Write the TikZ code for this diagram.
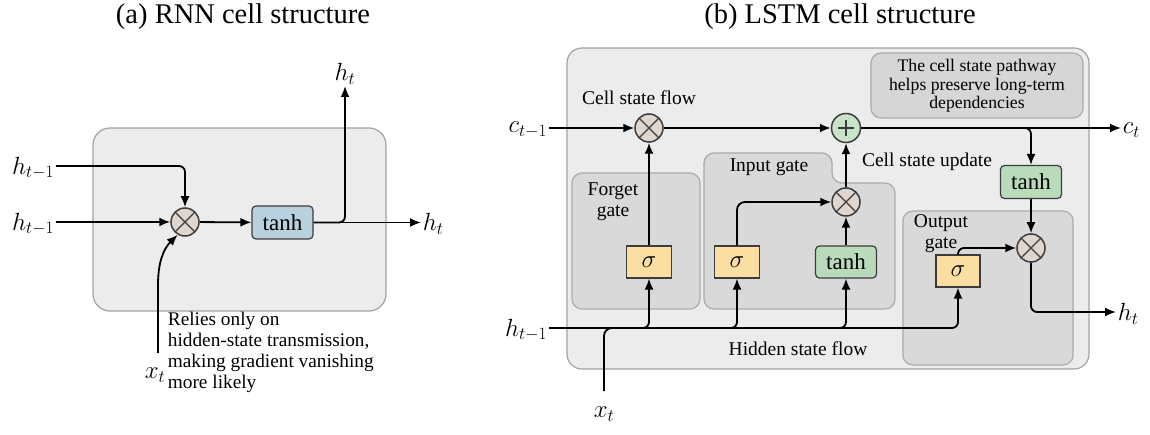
\documentclass[tikz,border=0pt]{standalone}
\usepackage{fontspec}
\setmainfont{Liberation Serif}
\usepackage{tikz}
\usetikzlibrary{positioning,arrows.meta}
\usepackage{xcolor}
\definecolor{cellfill}{HTML}{ECECEC}
\definecolor{cellline}{HTML}{A2A2A2}
\definecolor{gatefill}{HTML}{D9D9D9}
\definecolor{gateline}{HTML}{ABABAB}
\definecolor{notefill}{HTML}{D6D6D6}
\definecolor{multfill}{HTML}{E0D6D0}
\definecolor{addfill}{HTML}{C9E3C9}
\definecolor{sigfill}{HTML}{FBDFA2}
\definecolor{tanhgreen}{HTML}{B9DABB}
\definecolor{tanhblue}{HTML}{B9D0DE}
\definecolor{boxline}{HTML}{3C3C3C}

\begin{document}
\begin{tikzpicture}[x=1pt, y=-1pt, line width=1.8pt, >={Latex[length=11pt,width=9pt]},
    txt/.style={font=\fontsize{19.5}{21}\selectfont, inner sep=0pt},
    var/.style={font=\fontsize{24}{26}\selectfont, inner sep=1pt},
    title/.style={font=\fontsize{28.5}{30}\selectfont, inner sep=0pt},
    cellbox/.style={draw=cellline, fill=cellfill, line width=1.2pt, rounded corners=17pt},
    gatebox/.style={draw=gateline, fill=gatefill, line width=1.2pt, rounded corners=10pt},
    mult/.style={draw=boxline, circle, minimum size=28pt, inner sep=0pt, fill=multfill, line width=1.5pt,
        path picture={\draw[line width=1.3pt, boxline] (path picture bounding box.north west) -- (path picture bounding box.south east)
            (path picture bounding box.north east) -- (path picture bounding box.south west);}},
    addc/.style={draw=boxline, circle, minimum size=29pt, inner sep=0pt, fill=addfill, line width=1.5pt,
        path picture={\draw[line width=1.3pt, boxline] ([xshift=-8pt]path picture bounding box.center) -- ([xshift=8pt]path picture bounding box.center)
            ([yshift=-8pt]path picture bounding box.center) -- ([yshift=8pt]path picture bounding box.center);}},
    tanhbox/.style={draw=boxline, rectangle, rounded corners=4pt, minimum width=61pt, minimum height=33pt, line width=1.2pt, font=\fontsize{23}{24}\selectfont, inner sep=0pt},
    sigbox/.style={draw=boxline, rectangle, minimum width=45pt, minimum height=32pt, fill=sigfill, line width=1.2pt, font=\fontsize{24}{24}\selectfont, inner sep=0pt}]
    \fill[white] (0,0) rectangle (1150,435);
    \useasboundingbox (0,0) rectangle (1150,435);

    % (a) RNN
    \node[title] (titleA) at (243,17) {(a) RNN cell structure};
    \draw[cellbox] (93,128) rectangle (386,311);
    \node[mult] (mulA) at (185,222) {};
    \node[tanhbox, fill=tanhblue] (tanhA) at (282.5,222.5) {tanh};
    \node[var, anchor=east] (hA1) at (56,168) {$h_{t-1}$};
    \node[var, anchor=east] (hA2) at (56,224) {$h_{t-1}$};
    \node[var, anchor=west] (hA3) at (421,224) {$h_t$};
    \node[var, anchor=south] (hA4) at (345,86) {$h_t$};
    \node[var] (xA) at (155,375) {$x_t$};
    \draw[->, rounded corners=6pt] (hA1.east |- 0,166) -| (mulA.north);
    \draw[->] (hA2.east |- mulA) -- (mulA);
    \draw[->] (mulA) -- (tanhA);
    \draw[->] (tanhA.east) -- (hA3.west |- tanhA);
    \draw[->, rounded corners=6pt] (tanhA.east) -| (hA4.south);
    \draw[->] (158,353) -- (158,285) to[out=90,in=225] (mulA.240);
    \node[txt, anchor=north west, align=left, font=\fontsize{19.3}{21}\selectfont] (noteA) at (167,311)
        {Relies only on\\hidden-state transmission,\\making gradient vanishing\\more likely};

    % (b) LSTM
    \node[title] (titleB) at (840,17) {(b) LSTM cell structure};
    \draw[cellbox, rounded corners=15pt] (567,48) rectangle (1089,369);
    % gates
    \draw[gatebox] (572,173) rectangle (700,309);
    \draw[gatebox] (704,309) -- (704,153) -- (832,153) -- (832,183) -- (895,183) -- (895,309) -- cycle;
    \draw[gatebox] (903,211) rectangle (1073,365);
    \draw[gatebox, fill=notefill] (871,53) rectangle (1083,118);
    \node[txt, align=center, font=\fontsize{17.7}{18.5}\selectfont] (noteB) at (977,86)
        {The cell state pathway\\helps preserve long-term\\dependencies};
    \node[txt, align=center] (forgetlbl) at (613,202) {Forget\\gate};
    \node[txt] (inputlbl) at (769,167) {Input gate};
    \node[txt, align=center] (outputlbl) at (941,234) {Output\\gate};
    \node[txt] (flowlbl) at (639,98) {Cell state flow};
    \node[txt] (updatelbl) at (927,162) {Cell state update};
    \node[txt] (hiddenlbl) at (798,349) {Hidden state flow};

    % operators
    \node[mult] (mulF) at (649,128) {};
    \node[addc] (addC) at (846,128) {};
    \node[mult] (mulI) at (846,202) {};
    \node[mult] (mulO) at (1031,248) {};
    \node[sigbox] (sigF) at (649,262) {$\sigma$};
    \node[sigbox] (sigI) at (737,262) {$\sigma$};
    \node[sigbox, minimum width=44pt] (sigO) at (958,271) {$\sigma$};
    \node[tanhbox, fill=tanhgreen, minimum height=32pt] (tanhI) at (846,262) {tanh};
    \node[tanhbox, fill=tanhgreen] (tanhO) at (1031,182) {tanh};

    % inputs and outputs
    \node[var, anchor=east] (cB) at (549,130) {$c_{t-1}$};
    \node[var, anchor=east] (hB) at (549,330) {$h_{t-1}$};
    \node[var, anchor=west] (cOut) at (1121,130) {$c_t$};
    \node[var, anchor=west] (hOut) at (1116,314) {$h_t$};
    \node[var] (xB) at (604,414) {$x_t$};
    \coordinate (hjoin) at (640,328);

    % cell state path
    \draw[->] (cB.east |- mulF) -- (mulF);
    \draw[->] (mulF) -- (addC);
    \draw[->] (addC) -- (cOut.west |- addC);
    \draw[->, rounded corners=6pt] (addC.east) -| (tanhO.north);
    \draw[->] (tanhO) -- (mulO);
    \draw[->, rounded corners=6pt] (mulO.south) |- (hOut.west |- 0,312);

    % gate paths
    \draw[->] (sigF) -- (mulF);
    \draw[->, rounded corners=8pt] (sigI.north) |- (mulI.west);
    \draw[->] (tanhI) -- (mulI);
    \draw[->] (mulI) -- (addC);
    \draw[->, rounded corners=6pt] (sigO.north) |- (mulO.west);

    % hidden state path
    \draw[->, rounded corners=6pt] (hB.east |- 0,328) -| (sigF.south);
    \draw[->, rounded corners=6pt] (hB.east |- 0,328) -| (sigI.south);
    \draw[->, rounded corners=6pt] (hB.east |- 0,328) -| (tanhI.south);
    \draw[->, rounded corners=6pt] (hB.east |- 0,328) -| (sigO.south);
    \draw[rounded corners=8pt] (xB.north |- 0,391) |- (hjoin);
\end{tikzpicture}
\end{document}
